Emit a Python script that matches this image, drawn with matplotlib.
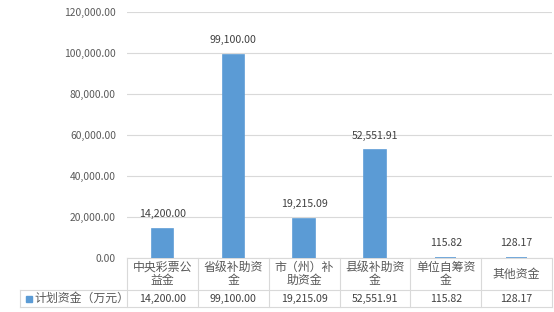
import matplotlib.pyplot as plt
import matplotlib.transforms as mtransforms
from matplotlib.lines import Line2D

plt.rcParams['font.family'] = ['Noto Sans CJK SC', 'DejaVu Sans']

categories = ['中央彩票公\n益金', '省级补助资\n金', '市（州）补\n助资金', '县级补助资\n金', '单位自筹资\n金', '其他资金']
values = [14200.00, 99100.00, 19215.09, 52551.91, 115.82, 128.17]
series_name = '计划资金（万元）'
yticks = [0, 20000, 40000, 60000, 80000, 100000, 120000]

bar_color = '#5B9BD5'
grid_color = '#D9D9D9'
text_color = '#595959'
label_color = '#404040'

fig = plt.figure(figsize=(5.54, 3.12), dpi=100)
ax = fig.add_axes([127 / 554, 54 / 312, 425 / 554, 246 / 312])

x = list(range(len(values)))
ax.bar(x, values, width=0.30, color=bar_color, edgecolor=bar_color, linewidth=1.2, zorder=4)
ax.set_xlim(-0.5, len(values) - 0.5)
ax.set_ylim(0, 120000)
ax.set_yticks(yticks)
ax.set_yticklabels([f'{v:,.2f}' for v in yticks], fontsize=7.4, color=text_color)
ax.yaxis.grid(True, color=grid_color, linewidth=0.8)
ax.set_axisbelow(True)
ax.tick_params(axis='y', length=0, pad=8)
ax.set_xticks([])
for s in ['top', 'right', 'left']:
    ax.spines[s].set_visible(False)
ax.spines['bottom'].set_color(grid_color)

for xi, v in zip(x, values):
    ax.annotate(f'{v:,.2f}', (xi, v), xytext=(0, 7), textcoords='offset points',
                ha='center', va='bottom', fontsize=7.6, color=label_color)

# data table under the axis
trans = mtransforms.blended_transform_factory(ax.transData, ax.transAxes)
h1 = 32 / 246
h2 = 17 / 246
left_frac = (20 - 127) / 425  # in axes fraction
lw = 0.8
for b in range(len(values) + 1):
    xb = b - 0.5
    ax.add_line(Line2D([xb, xb], [0, -(h1 + h2)], transform=trans, color=grid_color,
                       lw=lw, clip_on=False))
ax.add_line(Line2D([left_frac, 1], [-h1, -h1], transform=ax.transAxes, color=grid_color,
                   lw=lw, clip_on=False))
ax.add_line(Line2D([left_frac, 1], [-(h1 + h2), -(h1 + h2)], transform=ax.transAxes,
                   color=grid_color, lw=lw, clip_on=False))
ax.add_line(Line2D([left_frac, left_frac], [-h1, -(h1 + h2)], transform=ax.transAxes,
                   color=grid_color, lw=lw, clip_on=False))

for xi, c, v in zip(x, categories, values):
    ax.text(xi, -h1 / 2, c, transform=trans, ha='center', va='center', fontsize=8.6,
            color=text_color, linespacing=1.05)
    ax.text(xi, -h1 - h2 / 2, f'{v:,.2f}', transform=trans, ha='center', va='center',
            fontsize=7.6, color=label_color)

ax.add_line(Line2D([left_frac + 9 / 425], [-h1 - h2 / 2], transform=ax.transAxes,
                   marker='s', markersize=4.5, color=bar_color, linestyle='none',
                   clip_on=False))
ax.text(left_frac + 14 / 425, -h1 - h2 / 2, series_name, transform=ax.transAxes,
        ha='left', va='center', fontsize=8.6, color=text_color)

fig.savefig('out.png', dpi=100)
